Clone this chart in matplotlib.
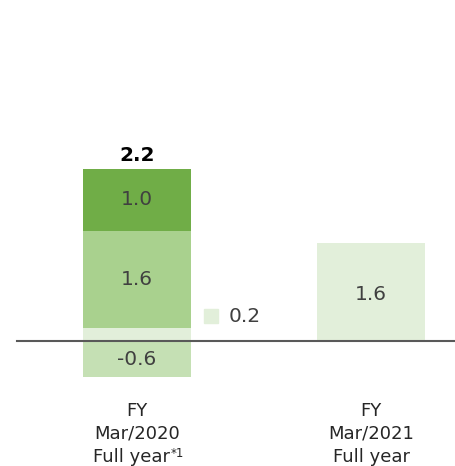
import matplotlib
matplotlib.use("Agg")
import matplotlib.pyplot as plt

# data
cat_lines = [["FY", "Mar/2020", "Full year"], ["FY", "Mar/2021", "Full year"]]
cat_notes = ["*1", ""]
seg_small = [0.2, 0.0]      # small positive piece (label shown beside bar)
seg_mid = [1.6, 1.6]
seg_top = [1.0, 0.0]
seg_neg = [-0.6, 0.0]
totals = [2.2, None]

c_top = "#70ad47"
c_mid = "#a9d18e"
c_neg = "#c5e0b4"
c_light = "#e2efda"
txt = "#404040"

fig = plt.figure(figsize=(4.56, 4.66), dpi=100)
ax = fig.add_axes([0, 0, 1, 1])
ax.set_xlim(-0.585, 1.363)
ax.set_ylim(-2.047, 5.567)
ax.axis("off")

x = [0, 1]
w = 0.4615

# first bar, stacked
ax.bar(x[0], seg_small[0], w, bottom=0, color=c_light)
ax.bar(x[0], seg_mid[0], w, bottom=seg_small[0], color=c_mid)
ax.bar(x[0], seg_top[0], w, bottom=seg_small[0] + seg_mid[0], color=c_top)
ax.bar(x[0], seg_neg[0], w, bottom=0, color=c_neg)
# second bar
ax.bar(x[1], seg_mid[1], w, bottom=0, color=c_light)

fs = 14.5
ax.text(x[0], seg_small[0] + seg_mid[0] + seg_top[0] / 2, f"{seg_top[0]:.1f}",
        ha="center", va="center", fontsize=fs, color=txt)
ax.text(x[0], seg_small[0] + seg_mid[0] / 2, f"{seg_mid[0]:.1f}",
        ha="center", va="center", fontsize=fs, color=txt)
ax.text(x[0], seg_neg[0] / 2, f"{seg_neg[0]:.1f}",
        ha="center", va="center", fontsize=fs, color=txt)
ax.text(x[1], seg_mid[1] / 2 - 0.05, f"{seg_mid[1]:.1f}",
        ha="center", va="center", fontsize=fs, color=txt)

# total on top
top = seg_small[0] + seg_mid[0] + seg_top[0]
ax.text(x[0], top + 0.23, f"{totals[0]:.1f}", ha="center", va="center",
        fontsize=fs, fontweight="bold", color="black")

# small piece marker + label
ax.plot(0.316, 0.41, marker="s", markersize=10.5, color=c_light, linestyle="none")
ax.text(0.392, 0.40, f"{seg_small[0]:.1f}", ha="left", va="center",
        fontsize=fs, color=txt)

# zero line
ax.axhline(0, xmin=0.037, xmax=1, color="#595959", linewidth=1.5)

# category labels, one line at a time (pixel baselines from top)
baselines = [416, 439, 462]
for xi, lines, note in zip(x, cat_lines, cat_notes):
    for i, (ln, py) in enumerate(zip(lines, baselines)):
        shift = -0.022 if (note and i == 2) else 0
        t = ax.text(xi + shift, (466 - py) / 61.2 - 2.047, ln, ha="center",
                    va="baseline", fontsize=13, color="#262626")
    if note:
        ax.annotate(note, xy=(1, 1), xycoords=t, xytext=(0.5, 0.5),
                    textcoords="offset points", ha="left", va="top",
                    fontsize=8.5, color="#262626")

fig.savefig("out.png", dpi=100)
